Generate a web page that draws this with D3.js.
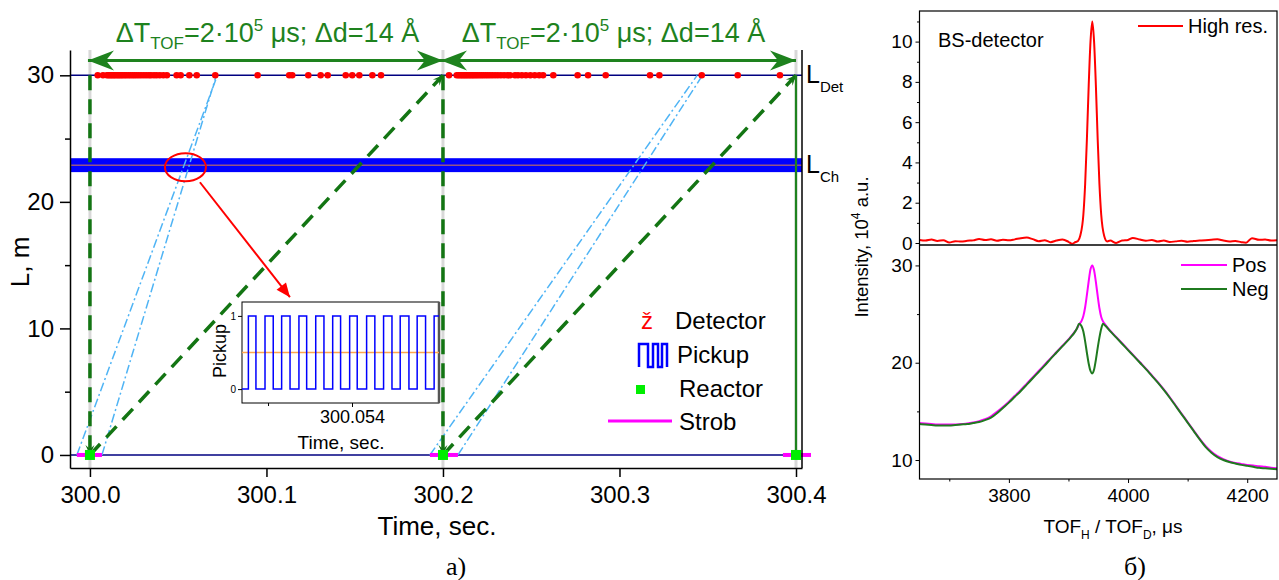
<!DOCTYPE html>
<html>
<head>
<meta charset="utf-8">
<script src="https://cdn.jsdelivr.net/npm/d3@7"></script>
<style>
  body { margin: 0; background: #fff; }
  svg { font-family: "Liberation Sans", Arial, sans-serif; }
  .axis path, .axis line { stroke: #000; }
  .axis text { fill: #000; }
</style>
</head>
<body>
<svg id="fig" width="1279" height="580"></svg>
<script>
// ---------- panel a) data ----------
const tTicks = [300.0, 300.1, 300.2, 300.3, 300.4];
const lTicks = [0, 10, 20, 30];
const lMinor = [5, 15, 25];
const pulseT = [300.0, 300.2, 300.4];                 // reactor pulses
const strobT = [[299.9926, 300.0068], [300.1926, 300.2085], [300.3926, 300.4085]];
const lDet = 30, lCh = 22.9;
const pickupBand = [22.35, 23.45];
const arrowL = 31.18;
const periods = [[300.0, 300.2], [300.2, 300.4]];
// detector hits (s)
const detT = [
  300.0044, 300.0074, 300.0096, 300.0105, 300.0114, 300.0122, 300.0131, 300.0139, 300.0148,
  300.0158, 300.0166, 300.0176, 300.0185, 300.0196, 300.0206, 300.0218, 300.0229, 300.0241,
  300.0252, 300.0264, 300.0277, 300.0290, 300.0305, 300.0319, 300.0334, 300.0346, 300.0363,
  300.0378, 300.0396, 300.0416, 300.0436, 300.0491, 300.0514, 300.0563, 300.0605, 300.0710,
  300.0950, 300.1129, 300.1146, 300.1237, 300.1307, 300.1347, 300.1449, 300.1486, 300.1526,
  300.1600, 300.1649,
  300.2034, 300.2078, 300.2088, 300.2097, 300.2106, 300.2114, 300.2123, 300.2131, 300.2140,
  300.2149, 300.2158, 300.2167, 300.2176, 300.2186, 300.2196, 300.2207, 300.2218, 300.2229,
  300.2241, 300.2253, 300.2266, 300.2280, 300.2295, 300.2311, 300.2328, 300.2346, 300.2365,
  300.2380, 300.2408, 300.2425, 300.2447, 300.2470, 300.2495, 300.2520, 300.2545, 300.2567,
  300.2625, 300.2763, 300.2822, 300.2922, 300.3173, 300.3226, 300.3466, 300.3670, 300.3909
];
// light-blue neutron paths [t0, L0, t1, L1]
const fastPaths = [
  [299.9926, 0, 300.0722, 30], [300.0068, 0, 300.0716, 30],
  [300.1926, 0, 300.3440, 30], [300.2085, 0, 300.3470, 30]
];
// green frame lines
const dashedPaths = [
  [300.0, 30, 300.0, 0], [300.0, 0, 300.2, 30],
  [300.2, 30, 300.2, 0], [300.2, 0, 300.4, 30]
];
const solidPaths = [[300.4, 0, 300.4, 30]];
const periodText = ['ΔT', 'TOF', '=2·10', '5', ' μs; Δd=14 Å'];
const legendA = ['Detector', 'Pickup', 'Reactor', 'Strob'];

// inset: pickup signal
const insetRise = [300.053383, 300.053482, 300.053581, 300.053684, 300.053784, 300.053885,
  300.053986, 300.054087, 300.054188, 300.054287, 300.054388, 300.054489];
const insetFall = [300.053428, 300.053531, 300.053631, 300.053730, 300.053833, 300.053932,
  300.054031, 300.054136, 300.054238, 300.054339, 300.054438];
const insetTicks = [300.054];
const insetMinor = [300.0535];

// ---------- panel б) data ----------
const tofTicks = [3800, 4000, 4200];
const tofMinor = [3700, 3900, 4100];
const topTicks = [0, 2, 4, 6, 8, 10];
const topMinor = [1, 3, 5, 7, 9, 11];
const botTicks = [10, 20, 30];
const botMinor = [15, 25];
const redPeak = [
  [3650, 0.15], [3660, 0.12], [3670, 0.17], [3680, 0.10], [3690, 0.14], [3700, 0.02], [3710, 0.09],
  [3720, 0.07], [3730, 0.11], [3740, 0.13], [3750, 0.20], [3760, 0.15], [3770, 0.18], [3780, 0.11],
  [3790, 0.16], [3800, 0.13], [3810, 0.18], [3820, 0.24], [3830, 0.27], [3840, 0.19], [3850, 0.09],
  [3860, 0.14], [3870, 0.04], [3880, 0.12], [3890, 0.17], [3900, 0.06], [3906, -0.04], [3912, 0.05],
  [3916, 0.10], [3920, 0.38], [3925, 1.40], [3928, 2.92], [3931, 5.20], [3934, 7.84], [3937, 10.0],
  [3940, 11.0], [3943, 10.0], [3946, 7.84], [3949, 5.20], [3952, 2.92], [3955, 1.40], [3960, 0.35],
  [3965, 0.08], [3970, 0.12], [3980, 0.00], [3990, 0.12], [4000, 0.15], [4008, 0.25], [4020, 0.17],
  [4030, 0.11], [4040, 0.15], [4050, 0.07], [4060, 0.12], [4070, 0.05], [4080, 0.08], [4090, 0.11],
  [4100, 0.06], [4110, 0.10], [4120, 0.12], [4130, 0.14], [4140, 0.16], [4150, 0.18], [4160, 0.12],
  [4170, 0.08], [4180, 0.10], [4190, 0.04], [4198, 0.01], [4208, 0.24], [4220, 0.16], [4230, 0.17],
  [4240, 0.12], [4250, 0.14]
];
const posCurve = [
  [3650, 13.8], [3660, 13.75], [3670, 13.7], [3680, 13.65], [3690, 13.65], [3700, 13.65], [3710, 13.65],
  [3720, 13.7], [3730, 13.75], [3740, 13.85], [3750, 14.0], [3760, 14.2], [3770, 14.5], [3780, 14.95],
  [3790, 15.45], [3800, 16.0], [3810, 16.6], [3820, 17.2], [3830, 17.85], [3840, 18.5], [3850, 19.15],
  [3860, 19.8], [3870, 20.45], [3880, 21.1], [3890, 21.75], [3900, 22.4], [3905, 22.75], [3910, 23.15],
  [3914, 23.5], [3918, 23.95], [3922, 24.3], [3925, 24.8], [3928, 25.7], [3931, 27.0], [3934, 28.4],
  [3937, 29.6], [3940, 30.0], [3943, 29.5], [3946, 28.3], [3949, 26.9], [3952, 25.6], [3955, 24.7],
  [3958, 24.25], [3962, 23.9], [3970, 23.3], [3980, 22.65], [3990, 22.0], [4000, 21.35], [4010, 20.7],
  [4020, 20.05], [4030, 19.4], [4040, 18.7], [4050, 18.0], [4060, 17.25], [4070, 16.45], [4080, 15.6],
  [4090, 14.75], [4100, 13.9], [4110, 13.05], [4120, 12.2], [4130, 11.45], [4140, 10.85], [4150, 10.4],
  [4160, 10.1], [4170, 9.85], [4180, 9.7], [4190, 9.6], [4200, 9.5], [4210, 9.45], [4220, 9.35],
  [4230, 9.3], [4240, 9.2], [4250, 9.15]
];
const negCurve = [
  [3650, 13.7], [3660, 13.65], [3670, 13.6], [3680, 13.55], [3690, 13.55], [3700, 13.55], [3710, 13.6],
  [3720, 13.65], [3730, 13.7], [3740, 13.8], [3750, 13.9], [3760, 14.1], [3770, 14.35], [3780, 14.8],
  [3790, 15.35], [3800, 15.9], [3810, 16.5], [3820, 17.1], [3830, 17.75], [3840, 18.4], [3850, 19.05],
  [3860, 19.7], [3870, 20.4], [3880, 21.05], [3890, 21.7], [3900, 22.35], [3905, 22.7], [3910, 23.1],
  [3914, 23.5], [3918, 24.0], [3922, 23.75], [3925, 23.2], [3928, 22.2], [3931, 21.0], [3934, 19.9],
  [3937, 19.15], [3940, 18.9], [3943, 19.3], [3946, 20.3], [3949, 21.5], [3952, 22.6], [3955, 23.5],
  [3958, 24.0], [3962, 23.8], [3970, 23.25], [3980, 22.6], [3990, 21.95], [4000, 21.3], [4010, 20.65],
  [4020, 20.0], [4030, 19.35], [4040, 18.65], [4050, 17.95], [4060, 17.2], [4070, 16.4], [4080, 15.55],
  [4090, 14.7], [4100, 13.85], [4110, 13.0], [4120, 12.15], [4130, 11.35], [4140, 10.75], [4150, 10.3],
  [4160, 10.0], [4170, 9.8], [4180, 9.65], [4190, 9.5], [4200, 9.4], [4210, 9.3], [4220, 9.2],
  [4230, 9.15], [4240, 9.1], [4250, 9.05]
];

const GREEN = '#1e821e', DGREEN = '#137513', SKY = '#4fb4f5';

const svg = d3.select('#fig');
svg.append('rect').attr('width', 1279).attr('height', 580).attr('fill', '#fff');

// markers
const defs = svg.append('defs');
function marker(id, path, color, w, h) {
  defs.append('marker')
    .attr('id', id)
    .attr('viewBox', `${-w} ${-h / 2} ${w + 1} ${h}`)
    .attr('refX', 0).attr('refY', 0)
    .attr('markerWidth', w + 1).attr('markerHeight', h)
    .attr('markerUnits', 'userSpaceOnUse')
    .attr('orient', 'auto-start-reverse')
    .append('path').attr('d', path).attr('fill', color);
}
marker('big', 'M0,0 L-26,-10 L-18,0 L-26,10 Z', GREEN, 27, 22);
marker('small', 'M0,0 L-10,-4.5 L-6,0 L-10,4.5 Z', DGREEN, 11, 10);
marker('red', 'M0,0 L-14,-6 L-14,6 Z', '#ff0000', 15, 13);

// ================= panel a) =================
const x = d3.scaleLinear().domain([299.9887, 300.4034]).range([70, 802]);
const y = d3.scaleLinear().domain([-1.03, 32]).range([468, 50]);
const ga = svg.append('g');

// light grey guide lines at the pulses
ga.selectAll('.guide').data(pulseT).enter().append('line')
  .attr('x1', d => x(d)).attr('x2', d => x(d))
  .attr('y1', y(32)).attr('y2', y(-1.03))
  .attr('stroke', '#d8d8d8').attr('stroke-width', 3);

// detector and reactor levels
ga.selectAll('.lvl').data([0, lDet]).enter().append('line')
  .attr('x1', 70).attr('x2', 802)
  .attr('y1', d => y(d)).attr('y2', d => y(d))
  .attr('stroke', '#000080').attr('stroke-width', 1.5);

// chopper pickup band
ga.append('rect')
  .attr('x', 70).attr('width', 732)
  .attr('y', y(pickupBand[1])).attr('height', y(pickupBand[0]) - y(pickupBand[1]))
  .attr('fill', '#0000ff');
ga.append('line')
  .attr('x1', 70).attr('x2', 802).attr('y1', y(lCh)).attr('y2', y(lCh))
  .attr('stroke', '#e0824a').attr('stroke-width', 1);

// light-blue neutron paths
ga.selectAll('.fast').data(fastPaths).enter().append('line')
  .attr('x1', d => x(d[0])).attr('y1', d => y(d[1]))
  .attr('x2', d => x(d[2])).attr('y2', d => y(d[3]))
  .attr('stroke', SKY).attr('stroke-width', 1.5)
  .attr('stroke-dasharray', '9,3,2,3');

// green frame lines
ga.selectAll('.dash').data(dashedPaths).enter().append('line')
  .attr('x1', d => x(d[0])).attr('y1', d => y(d[1]))
  .attr('x2', d => x(d[2])).attr('y2', d => y(d[3]))
  .attr('stroke', DGREEN).attr('stroke-width', 3.5)
  .attr('stroke-dasharray', '15,9')
  .attr('marker-end', 'url(#small)');
ga.selectAll('.solid').data(solidPaths).enter().append('line')
  .attr('x1', d => x(d[0])).attr('y1', d => y(d[1]))
  .attr('x2', d => x(d[2])).attr('y2', d => y(d[3]))
  .attr('stroke', GREEN).attr('stroke-width', 2.2);

// detector hits
ga.selectAll('.hit').data(detT).enter().append('circle')
  .attr('cx', d => x(d)).attr('cy', y(lDet)).attr('r', 3.3)
  .attr('fill', '#ff0000');

// strob + reactor pulses
ga.selectAll('.strob').data(strobT).enter().append('line')
  .attr('x1', d => x(d[0])).attr('x2', d => x(d[1]))
  .attr('y1', y(0)).attr('y2', y(0))
  .attr('stroke', '#ff00ff').attr('stroke-width', 4);
ga.selectAll('.pulse').data(pulseT).enter().append('rect')
  .attr('x', d => x(d) - 5).attr('y', y(0) - 5)
  .attr('width', 10).attr('height', 10).attr('fill', '#00ee00');

// period arrows and captions
ga.selectAll('.per').data(periods).enter().append('line')
  .attr('x1', d => x(d[0]) - 2).attr('x2', d => x(d[1]))
  .attr('y1', y(arrowL)).attr('y2', y(arrowL))
  .attr('stroke', GREEN).attr('stroke-width', 3)
  .attr('marker-start', 'url(#big)').attr('marker-end', 'url(#big)');
const cap = ga.selectAll('.cap').data(periods).enter().append('text')
  .attr('x', d => x((d[0] + d[1]) / 2) + 1 - (d[0] > 300.1 ? 7 : 0))
  .attr('y', 42).attr('text-anchor', 'middle')
  .attr('fill', GREEN).attr('font-size', 27);
cap.append('tspan').text(periodText[0]);
cap.append('tspan').attr('font-size', 17).attr('dy', 7).text(periodText[1]);
cap.append('tspan').attr('dy', -7).text(periodText[2]);
cap.append('tspan').attr('font-size', 17).attr('dy', -11).text(periodText[3]);
cap.append('tspan').attr('dy', 11).text(periodText[4]);

// axes
const xAxA = ga.append('g').attr('class', 'axis').attr('transform', 'translate(0,468)')
  .call(d3.axisBottom(x).tickValues(tTicks).tickFormat(d3.format('.1f')).tickSize(9).tickPadding(9).tickSizeOuter(0));
xAxA.selectAll('text').attr('font-size', 24).attr('font-family', '"Liberation Sans Narrow", "Liberation Sans", Arial');
const yAxA = ga.append('g').attr('class', 'axis').attr('transform', 'translate(70,0)')
  .call(d3.axisLeft(y).tickValues(lTicks).tickSize(10).tickPadding(6).tickSizeOuter(0));
yAxA.selectAll('text').attr('font-size', 24);
ga.append('g').attr('class', 'axis').attr('transform', 'translate(70,0)')
  .call(d3.axisLeft(y).tickValues(lMinor).tickSize(5).tickFormat('').tickSizeOuter(0))
  .select('.domain').remove();
ga.selectAll('.axis path, .axis line').attr('stroke-width', 1.5);
ga.append('line').attr('x1', 802).attr('x2', 802).attr('y1', 50).attr('y2', 468)
  .attr('stroke', '#000').attr('stroke-width', 1.5);

// level labels
[[lDet, 'Det'], [lCh, 'Ch']].forEach(([l, s]) => {
  const t = ga.append('text').attr('x', 806).attr('y', y(l) + 8).attr('font-size', 25);
  t.append('tspan').text('L');
  t.append('tspan').attr('font-size', 15).attr('dy', 9).text(s);
});

ga.append('text').attr('transform', 'translate(29,262) rotate(-90)')
  .attr('text-anchor', 'middle').attr('font-size', 26).text('L, m');
ga.append('text').attr('x', 437).attr('y', 535).attr('text-anchor', 'middle')
  .attr('font-size', 26).attr('font-family', '"Liberation Sans Narrow", "Liberation Sans", Arial')
  .text('Time, sec.');
ga.append('text').attr('x', 456).attr('y', 575).attr('text-anchor', 'middle')
  .attr('font-size', 26).attr('font-family', '"Liberation Serif", "Times New Roman", serif').text('а)');

// zoom marker: ellipse + arrow
ga.append('ellipse').attr('cx', x(300.0541)).attr('cy', y(22.74))
  .attr('rx', 20.5).attr('ry', 14)
  .attr('fill', 'none').attr('stroke', '#ff0000').attr('stroke-width', 2);
ga.append('line')
  .attr('x1', x(300.0623)).attr('y1', y(21.55))
  .attr('x2', x(300.1133)).attr('y2', y(12.47))
  .attr('stroke', '#ff0000').attr('stroke-width', 2)
  .attr('marker-end', 'url(#red)');

// legend
const lg = ga.append('g').attr('font-size', 24);
lg.append('text').attr('x', 641).attr('y', 329).attr('fill', '#ff0000').text('ž');
lg.append('path').attr('d', 'M639,367 V344 H648 V367 H653 V344 H658 V367 H662 V344 H667 V367')
  .attr('fill', 'none').attr('stroke', '#0000ff').attr('stroke-width', 2.5);
lg.append('rect').attr('x', 636).attr('y', 385).attr('width', 9).attr('height', 9).attr('fill', '#00ee00');
lg.append('line').attr('x1', 608).attr('x2', 672).attr('y1', 421).attr('y2', 421)
  .attr('stroke', '#ff00ff').attr('stroke-width', 3);
lg.selectAll('.lt').data(legendA).enter().append('text')
  .attr('x', (d, i) => [675, 677, 679, 679][i])
  .attr('y', (d, i) => [329, 363, 397, 430][i])
  .text(d => d);

// ---------- inset ----------
const xi = d3.scaleLinear().domain([300.053345, 300.054518]).range([242, 439]);
const yi = d3.scaleLinear().domain([-0.19, 1.19]).range([403, 302]);
const gi = svg.append('g');
gi.append('rect').attr('x', 242).attr('y', 302).attr('width', 197).attr('height', 101)
  .attr('fill', '#fff').attr('stroke', '#000').attr('stroke-width', 1);
gi.append('line').attr('x1', 439).attr('x2', 439).attr('y1', 302).attr('y2', 403)
  .attr('stroke', '#555').attr('stroke-width', 2.5);
const steps = [[xi.domain()[0], 0]];
insetRise.forEach((r, i) => {
  steps.push([r, 1]);
  if (i < insetFall.length) steps.push([insetFall[i], 0]);
});
steps.push([xi.domain()[1], 1]);
gi.append('line').attr('x1', 242).attr('x2', 439).attr('y1', yi(0.5)).attr('y2', yi(0.5))
  .attr('stroke', '#ffa64d').attr('stroke-width', 1.5);
gi.append('path').datum(steps)
  .attr('d', d3.line().x(d => xi(d[0])).y(d => yi(d[1])).curve(d3.curveStepAfter))
  .attr('fill', 'none').attr('stroke', '#0000ff').attr('stroke-width', 1.5);
const yiAx = gi.append('g').attr('class', 'axis').attr('transform', 'translate(242,0)')
  .call(d3.axisLeft(yi).tickValues([0, 1]).tickFormat(d3.format('d')).tickSize(4).tickPadding(2).tickSizeOuter(0));
yiAx.select('.domain').remove();
yiAx.selectAll('text').attr('font-size', 10);
const xiAx = gi.append('g').attr('class', 'axis').attr('transform', 'translate(0,403)')
  .call(d3.axisBottom(xi).tickValues(insetTicks).tickFormat(d3.format('.3f')).tickSize(4).tickPadding(3).tickSizeOuter(0));
xiAx.select('.domain').remove();
xiAx.selectAll('text').attr('font-size', 18);
gi.append('g').attr('class', 'axis').attr('transform', 'translate(0,403)')
  .call(d3.axisBottom(xi).tickValues(insetMinor).tickFormat('').tickSize(3).tickSizeOuter(0))
  .select('.domain').remove();
gi.append('text').attr('transform', 'translate(226,351) rotate(-90)')
  .attr('text-anchor', 'middle').attr('font-size', 18).text('Pickup');
gi.append('text').attr('x', 341).attr('y', 449).attr('text-anchor', 'middle')
  .attr('font-size', 19).text('Time, sec.');

// ================= panel б) =================
const xr = d3.scaleLinear().domain([3650, 4250]).range([919.5, 1277]);
const yt = d3.scaleLinear().domain([-0.1, 11.52]).range([245, 11]);
const yb = d3.scaleLinear().domain([8.05, 32.1]).range([479, 245]);
const gb = svg.append('g');
gb.append('clipPath').attr('id', 'clipT').append('rect')
  .attr('x', 919.5).attr('y', 11).attr('width', 357.5).attr('height', 234);
gb.append('clipPath').attr('id', 'clipB').append('rect')
  .attr('x', 919.5).attr('y', 245).attr('width', 357.5).attr('height', 234);

gb.append('path').datum(redPeak)
  .attr('clip-path', 'url(#clipT)')
  .attr('d', d3.line().x(d => xr(d[0])).y(d => yt(d[1])).curve(d3.curveMonotoneX))
  .attr('fill', 'none').attr('stroke', '#ff0000').attr('stroke-width', 2);
gb.append('path').datum(posCurve)
  .attr('clip-path', 'url(#clipB)')
  .attr('d', d3.line().x(d => xr(d[0])).y(d => yb(d[1])).curve(d3.curveMonotoneX))
  .attr('fill', 'none').attr('stroke', '#ff00ff').attr('stroke-width', 2);
gb.append('path').datum(negCurve)
  .attr('clip-path', 'url(#clipB)')
  .attr('d', d3.line().x(d => xr(d[0])).y(d => yb(d[1])).curve(d3.curveMonotoneX))
  .attr('fill', 'none').attr('stroke', '#1f7a1f').attr('stroke-width', 2);

// frames
gb.append('rect').attr('x', 919.5).attr('y', 11).attr('width', 357.5).attr('height', 468)
  .attr('fill', 'none').attr('stroke', '#000').attr('stroke-width', 1.2);
gb.append('line').attr('x1', 919.5).attr('x2', 1277).attr('y1', 245).attr('y2', 245)
  .attr('stroke', '#000').attr('stroke-width', 1.5);

function leftAxis(scale, major, minor) {
  const a = gb.append('g').attr('class', 'axis').attr('transform', 'translate(919.5,0)')
    .call(d3.axisLeft(scale).tickValues(major).tickFormat(d3.format('d')).tickSize(4).tickPadding(3).tickSizeOuter(0));
  a.select('.domain').remove();
  a.selectAll('text').attr('font-size', 19);
  gb.append('g').attr('class', 'axis').attr('transform', 'translate(919.5,0)')
    .call(d3.axisLeft(scale).tickValues(minor).tickSize(2.5).tickFormat('').tickSizeOuter(0))
    .select('.domain').remove();
}
leftAxis(yt, topTicks, topMinor);
leftAxis(yb, botTicks, botMinor);
const xbAx = gb.append('g').attr('class', 'axis').attr('transform', 'translate(0,479)')
  .call(d3.axisBottom(xr).tickValues(tofTicks).tickFormat(d3.format('d')).tickSize(4).tickPadding(6).tickSizeOuter(0));
xbAx.select('.domain').remove();
xbAx.selectAll('text').attr('font-size', 19);
gb.append('g').attr('class', 'axis').attr('transform', 'translate(0,479)')
  .call(d3.axisBottom(xr).tickValues(tofMinor).tickSize(2.5).tickFormat('').tickSizeOuter(0))
  .select('.domain').remove();

// labels and legends
gb.append('text').attr('x', 938).attr('y', 47).attr('font-size', 20).text('BS-detector');
gb.append('line').attr('x1', 1138).attr('x2', 1183).attr('y1', 26).attr('y2', 26)
  .attr('stroke', '#ff0000').attr('stroke-width', 2);
gb.append('text').attr('x', 1188).attr('y', 33).attr('font-size', 20).text('High res.');
[['Pos', '#ff00ff', 265], ['Neg', '#1f7a1f', 289]].forEach(([name, c, yy]) => {
  gb.append('line').attr('x1', 1181).attr('x2', 1227).attr('y1', yy).attr('y2', yy)
    .attr('stroke', c).attr('stroke-width', 2);
  gb.append('text').attr('x', 1232).attr('y', yy + 7).attr('font-size', 20).text(name);
});

const yl = gb.append('text').attr('transform', 'translate(868,247) rotate(-90)')
  .attr('text-anchor', 'middle').attr('font-size', 18.5);
yl.append('tspan').text('Intensity, 10');
yl.append('tspan').attr('font-size', 12).attr('dy', -8).text('4');
yl.append('tspan').attr('dy', 8).text(' a.u.');

const xl = gb.append('text').attr('x', 1113).attr('y', 533).attr('text-anchor', 'middle')
  .attr('font-size', 19);
xl.append('tspan').text('TOF');
xl.append('tspan').attr('font-size', 12).attr('dy', 6).text('H');
xl.append('tspan').attr('dy', -6).text(' / TOF');
xl.append('tspan').attr('font-size', 12).attr('dy', 6).text('D');
xl.append('tspan').attr('dy', -6).text(', μs');

gb.append('text').attr('x', 1135).attr('y', 575).attr('text-anchor', 'middle')
  .attr('font-size', 26).attr('font-family', '"Liberation Serif", "Times New Roman", serif').text('б)');
</script>
</body>
</html>
